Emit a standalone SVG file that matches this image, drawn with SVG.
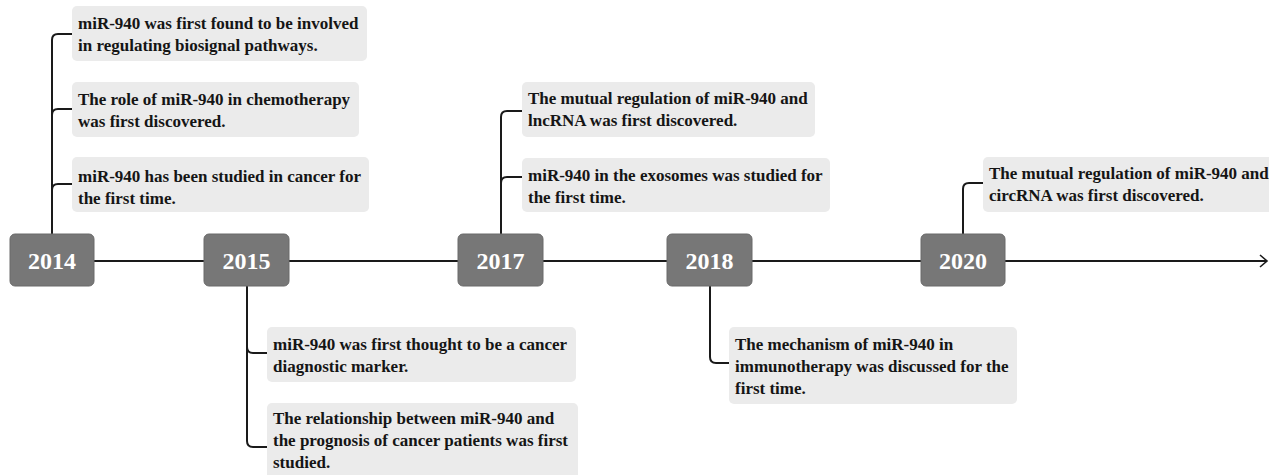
<svg xmlns="http://www.w3.org/2000/svg" width="1269" height="475" viewBox="0 0 1269 475">
<style>
.year rect{fill:#777;stroke:#6a6a6a;stroke-width:1}
.year text{fill:#fff;font-family:"Liberation Serif",serif;font-weight:bold;font-size:24px;text-anchor:middle}
.note rect{fill:#ebebeb}
.note text{fill:#151515;font-family:"Liberation Serif",serif;font-weight:bold;font-size:17px}
.conn path{fill:none;stroke:#1a1a1a;stroke-width:2}
</style>
<defs>
<marker id="arr" markerWidth="10" markerHeight="14" refX="8" refY="7" orient="auto" markerUnits="userSpaceOnUse">
<path d="M1,1 L8,7 L1,13" fill="none" stroke="#1a1a1a" stroke-width="1.6"/>
</marker>
</defs>
<g id="connectors" class="conn">
<path d="M94,261 H204 M289,261 H458 M543,261 H667 M752,261 H921" />
<path d="M1005,261 H1267" marker-end="url(#arr)"/>
<path d="M52,234 V40 Q52,34 58,34 H72 M52,115 Q52,109 58,109 H72 M52,190 Q52,184 58,184 H72"/>
<path d="M247,286 V441 Q247,447 253,447 H267 M247,347 Q247,353 253,353 H267"/>
<path d="M501,234 V117 Q501,111 507,111 H522 M501,183 Q501,177 507,177 H522"/>
<path d="M710,286 V357 Q710,363 716,363 H729"/>
<path d="M963,234 V189 Q963,183 969,183 H983"/>
</g>
<g id="y2014" class="year"><rect x="10" y="234" width="84" height="52" rx="5"/><text x="52" y="269">2014</text></g>
<g id="y2015" class="year"><rect x="204" y="234" width="85" height="52" rx="5"/><text x="246.5" y="269">2015</text></g>
<g id="y2017" class="year"><rect x="458" y="234" width="85" height="52" rx="5"/><text x="500.5" y="269">2017</text></g>
<g id="y2018" class="year"><rect x="667" y="234" width="85" height="52" rx="5"/><text x="709.5" y="269">2018</text></g>
<g id="y2020" class="year"><rect x="921" y="234" width="84" height="52" rx="5"/><text x="963" y="269">2020</text></g>
<g id="n2014a" class="note"><rect x="72" y="6" width="295" height="55" rx="5"/><text x="78" y="29">miR-940 was first found to be involved</text><text x="78" y="51">in regulating biosignal pathways.</text></g>
<g id="n2014b" class="note"><rect x="72" y="82" width="287" height="55" rx="5"/><text x="78" y="105">The role of miR-940 in chemotherapy</text><text x="78" y="127">was first discovered.</text></g>
<g id="n2014c" class="note"><rect x="72" y="157" width="297" height="55" rx="5"/><text x="78" y="182">miR-940 has been studied in cancer for</text><text x="78" y="204">the first time.</text></g>
<g id="n2015a" class="note"><rect x="267" y="327" width="309" height="55" rx="5"/><text x="273" y="350">miR-940 was first thought to be a cancer</text><text x="273" y="372">diagnostic marker.</text></g>
<g id="n2015b" class="note"><rect x="267" y="403" width="311" height="80" rx="5"/><text x="273" y="424">The relationship between miR-940 and</text><text x="273" y="446">the prognosis of cancer patients was first</text><text x="273" y="468">studied.</text></g>
<g id="n2017a" class="note"><rect x="522" y="82" width="293" height="55" rx="5"/><text x="528" y="104">The mutual regulation of miR-940 and</text><text x="528" y="126">lncRNA was first discovered.</text></g>
<g id="n2017b" class="note"><rect x="522" y="158" width="308" height="54" rx="5"/><text x="528" y="181">miR-940 in the exosomes was studied for</text><text x="528" y="203">the first time.</text></g>
<g id="n2018" class="note"><rect x="729" y="327" width="288" height="77" rx="5"/><text x="735" y="350">The mechanism of miR-940 in</text><text x="735" y="372">immunotherapy was discussed for the</text><text x="735" y="394">first time.</text></g>
<g id="n2020" class="note"><rect x="983" y="157" width="295" height="55" rx="5"/><text x="989" y="179">The mutual regulation of miR-940 and</text><text x="989" y="201">circRNA was first discovered.</text></g>
</svg>
